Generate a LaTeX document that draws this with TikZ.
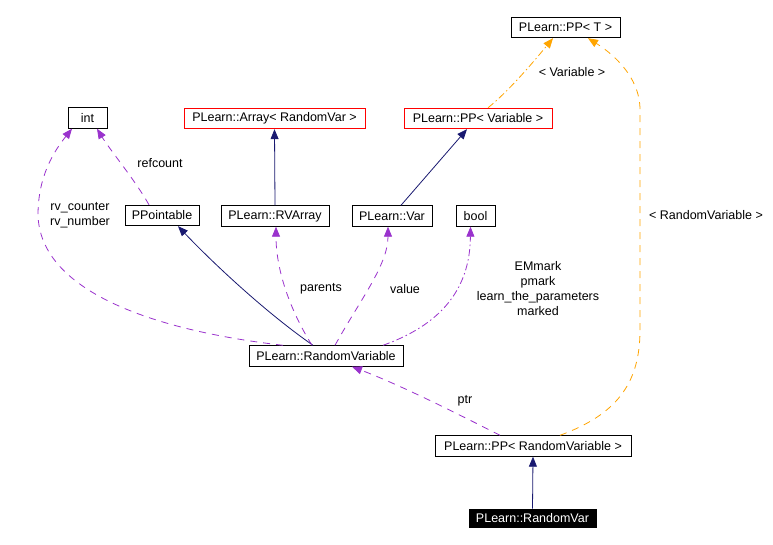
\documentclass[tikz,border=0pt]{standalone}
\usepackage{fontspec}
\setmainfont{Liberation Sans}
\usetikzlibrary{arrows.meta}
\definecolor{purp}{HTML}{9A32CD}
\definecolor{orng}{HTML}{FFA500}
\definecolor{navyc}{HTML}{191970}
\tikzset{
  box/.style={draw=black, line width=0.9pt, rectangle, inner sep=0pt, minimum height=20.5pt, font=\fontsize{12.5}{15}\selectfont},
  redbox/.style={box, draw=red},
  lbl/.style={inner sep=0pt, align=center, font=\fontsize{12.5}{15}\selectfont},
  inh/.style={draw=navyc, line width=0.8pt, arrows={-{Triangle[length=10pt,width=8pt,fill=navyc]}}},
  usage/.style={draw=purp, line width=0.8pt, dash pattern=on 7pt off 6pt, arrows={-{Triangle[length=10pt,width=8pt,fill=purp]}}},
  usagedd/.style={usage, dash pattern=on 7pt off 3pt on 1.5pt off 3pt},
  tmpl/.style={draw=orng, line width=0.8pt, dash pattern=on 7pt off 6pt, arrows={-{Triangle[length=10pt,width=8pt,fill=orng]}}},
  tmpldd/.style={tmpl, dash pattern=on 7pt off 3pt on 1.5pt off 3pt}
}
\begin{document}
\begin{tikzpicture}[x=1pt,y=-1pt]
\path[use as bounding box, fill=white] (0,0) rectangle (773,545);
% nodes
\node[box, minimum width=109pt] (ppT) at (565.5,27.5) {PLearn::PP< T >};
\node[box, minimum width=39pt] (int) at (87.5,118) {int};
\node[redbox, minimum width=181pt] (arr) at (274.5,118.5) {PLearn::Array< RandomVar >};
\node[redbox, minimum width=148pt] (ppV) at (478,118.5) {PLearn::PP< Variable >};
\node[box, minimum width=74pt] (ppt) at (162,215.5) {PPointable};
\node[box, minimum width=108pt] (rva) at (275,216) {PLearn::RVArray};
\node[box, minimum width=80pt] (var) at (392,216) {PLearn::Var};
\node[box, minimum width=39pt] (bool) at (475.5,216) {bool};
\node[box, minimum width=154pt] (rv) at (326,356) {PLearn::RandomVariable};
\node[box, minimum width=196pt] (ppRV) at (533,446) {PLearn::PP< RandomVariable >};
\node[box, draw=black, fill=black, text=white, minimum width=127pt, minimum height=18pt] (rvar) at (532.5,518) {PLearn::RandomVar};
% inheritance edges
\draw[inh] (rva.north) -- (arr.south);
\draw[inh] ([xshift=9pt]var.north) -- ([xshift=-11pt]ppV.south);
\draw[inh] ([xshift=-13pt]rv.north) .. controls (265,312) and (212,262) .. ([xshift=16pt]ppt.south);
\draw[inh] (rvar.north) -- (ppRV.south);
% usage edges
\draw[usage] ([xshift=-43pt]rv.north) .. controls (150,330) and (40,290) .. (38,215) .. controls (38,175) and (55,150) .. ([xshift=-15.5pt]int.south);
\draw[usage] ([xshift=-13pt]ppt.north) .. controls (135,180) and (110,150) .. ([xshift=9.5pt]int.south);
\draw[usage] ([xshift=-14pt]rv.north) .. controls (290,310) and (276,270) .. ([xshift=1pt]rva.south);
\draw[usage] ([xshift=9pt]rv.north) .. controls (360,300) and (388,265) .. ([xshift=-4pt]var.south);
\draw[usagedd] ([xshift=57pt]rv.north) .. controls (440,325) and (470,290) .. ([xshift=-5pt]bool.south);
\draw[usage] ([xshift=-33pt]ppRV.north) .. controls (450,410) and (400,385) .. ([xshift=26pt]rv.south);
% template edges
\draw[tmpldd] ([xshift=10pt]ppV.north) .. controls (510,90) and (535,60) .. ([xshift=-12.5pt]ppT.south);
\draw[tmpl] ([xshift=27pt]ppRV.north) .. controls (615,415) and (640,385) .. (640,330) -- (640,110) .. controls (640,75) and (610,52) .. ([xshift=22.5pt]ppT.south);
% labels
\node[lbl] (lrefcount) at (160,163) {refcount};
\node[lbl] (lrv) at (80,215.5) {rv\_counter\\rv\_number};
\node[lbl] (lparents) at (321,289) {parents};
\node[lbl] (lvalue) at (405,289) {value};
\node[lbl] (lbool) at (538,289) {EMmark\\pmark\\learn\_the\_parameters\\marked};
\node[lbl] (lptr) at (465,401) {ptr};
\node[lbl] (lvarT) at (572,72) {< Variable >};
\node[lbl] (lrvT) at (706,215) {< RandomVariable >};
\end{tikzpicture}
\end{document}
